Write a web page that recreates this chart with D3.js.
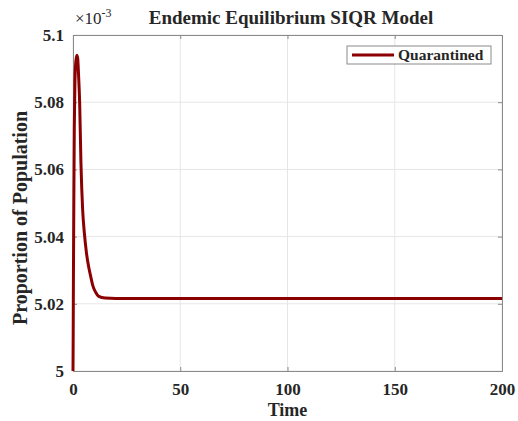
<!DOCTYPE html>
<html>
<head>
<meta charset="utf-8">
<script src="https://cdn.jsdelivr.net/npm/d3@7"></script>
<style>
  body { margin: 0; background: #fff; }
  text { font-family: "Liberation Serif", "Times New Roman", serif; font-weight: bold; fill: #262626; }
</style>
</head>
<body>
<div id="chart"></div>
<script>
// time points and quarantined proportion (units of 1e-3)
const times = [0, 0.1, 0.2, 0.4, 0.6, 0.9, 1.3, 1.8, 2.2, 2.6, 3.1, 3.7, 4.5, 5.3, 6.3, 7.3, 8.3, 9.2, 10.5, 12, 15, 20, 30, 50, 100, 150, 200];
const quarantined = [5.000, 5.012, 5.028, 5.052, 5.072, 5.086, 5.092, 5.094, 5.093, 5.088, 5.080, 5.062, 5.048, 5.041, 5.035, 5.031, 5.028, 5.0255, 5.0235, 5.0222, 5.0217, 5.0216, 5.0216, 5.0216, 5.0216, 5.0216, 5.0216];
const xTicks = [0, 50, 100, 150, 200];
const yTicks = [5, 5.02, 5.04, 5.06, 5.08, 5.1];

const width = 518;
const height = 421;
const margin = { top: 35, right: 16, bottom: 50, left: 73 };
const innerW = width - margin.left - margin.right;
const innerH = height - margin.top - margin.bottom;

const svg = d3.select('#chart')
              .append('svg')
              .attr('width', width)
              .attr('height', height);

const g = svg.append('g')
             .attr('transform', 'translate(' + margin.left + ',' + margin.top + ')');

const xScale = d3.scaleLinear().domain([0, 200]).range([0, innerW]);
const yScale = d3.scaleLinear().domain([5, 5.1]).range([innerH, 0]);

// grid
g.selectAll('.vgrid')
 .data(xTicks)
 .enter()
 .append('line')
 .attr('x1', d => xScale(d)).attr('x2', d => xScale(d))
 .attr('y1', 0).attr('y2', innerH)
 .attr('stroke', '#e6e6e6').attr('stroke-width', 1);

g.selectAll('.hgrid')
 .data(yTicks)
 .enter()
 .append('line')
 .attr('x1', 0).attr('x2', innerW)
 .attr('y1', d => yScale(d)).attr('y2', d => yScale(d))
 .attr('stroke', '#e6e6e6').attr('stroke-width', 1);

// axes (ticks inside like MATLAB)
const xAxis = d3.axisBottom(xScale).tickValues(xTicks).tickSize(-4).tickPadding(12).tickFormat(d3.format('d'));
const yAxis = d3.axisLeft(yScale).tickValues(yTicks).tickSize(-4).tickPadding(9).tickFormat(d => d === 5 ? '5' : d === 5.1 ? '5.1' : d3.format('.2f')(d));

const gx = g.append('g').attr('transform', 'translate(0,' + innerH + ')').call(xAxis);
const gy = g.append('g').call(yAxis);
const gxTop = g.append('g').call(d3.axisTop(xScale).tickValues(xTicks).tickSize(-4).tickFormat(''));
const gyRight = g.append('g').attr('transform', 'translate(' + innerW + ',0)').call(d3.axisRight(yScale).tickValues(yTicks).tickSize(-4).tickFormat(''));

[gx, gy, gxTop, gyRight].forEach(a => {
  a.attr('font-family', null);
  a.select('.domain').attr('stroke', '#8a8a8a');
  a.selectAll('.tick line').attr('stroke', '#8a8a8a');
  a.selectAll('.tick text').style('font-size', '17px').attr('fill', '#262626');
});

// line
const line = d3.line()
               .x((d, i) => xScale(times[i]))
               .y(d => yScale(d))
               .curve(d3.curveMonotoneX);

g.append('path')
 .datum(quarantined)
 .attr('fill', 'none')
 .attr('stroke', '#8b0000')
 .attr('stroke-width', 3)
 .attr('stroke-linejoin', 'round')
 .attr('d', line);

// exponent label
const expText = svg.append('text')
                   .attr('x', 75)
                   .attr('y', 24)
                   .style('font-size', '17px')
                   .style('font-weight', 'normal');
expText.append('tspan').text('×10');
expText.append('tspan').attr('dy', -7).style('font-size', '12px').text('-3');

// title
svg.append('text')
   .attr('x', 291)
   .attr('y', 24)
   .attr('text-anchor', 'middle')
   .style('font-size', '19px')
   .text('Endemic Equilibrium SIQR Model');

// axis labels
svg.append('text')
   .attr('x', margin.left + innerW / 2)
   .attr('y', 416)
   .attr('text-anchor', 'middle')
   .style('font-size', '18px')
   .text('Time');

svg.append('text')
   .attr('transform', 'rotate(-90)')
   .attr('x', -(margin.top + innerH / 2) - 15)
   .attr('y', 27)
   .attr('text-anchor', 'middle')
   .style('font-size', '20px')
   .text('Proportion of Population');

// legend
const legend = svg.append('g').attr('transform', 'translate(347,46)');
legend.append('rect')
      .attr('width', 144).attr('height', 18)
      .attr('fill', '#fff').attr('stroke', '#8a8a8a');
legend.append('line')
      .attr('x1', 5).attr('x2', 47).attr('y1', 9).attr('y2', 9)
      .attr('stroke', '#8b0000').attr('stroke-width', 3);
legend.append('text')
      .attr('x', 51).attr('y', 14)
      .style('font-size', '15.5px')
      .text('Quarantined');
</script>
</body>
</html>
